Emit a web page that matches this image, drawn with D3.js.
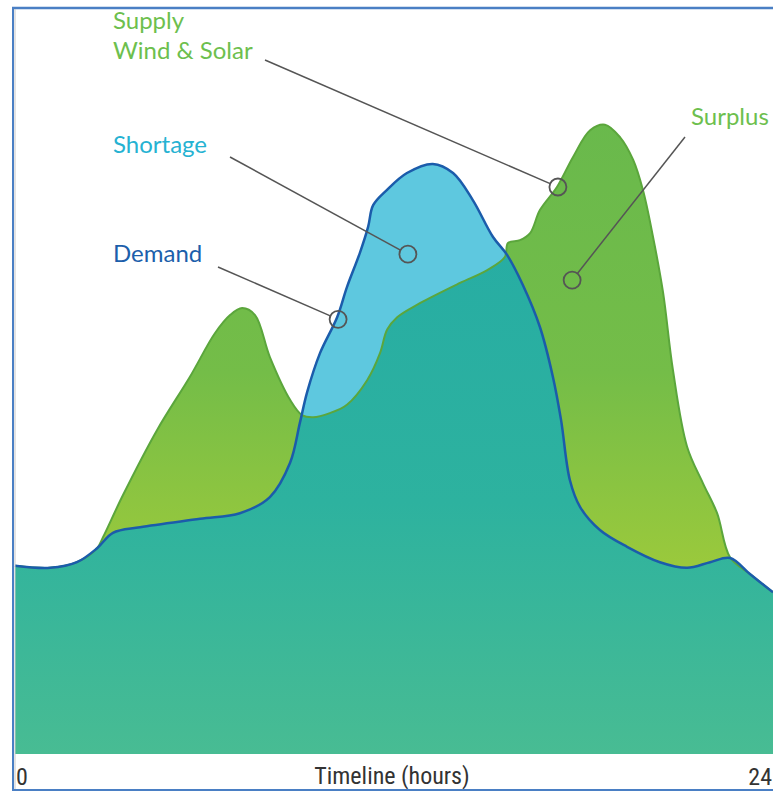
<!DOCTYPE html>
<html>
<head>
<meta charset="utf-8">
<script src="https://cdn.jsdelivr.net/npm/d3@7/dist/d3.min.js"></script>
<style>
  html, body { margin: 0; padding: 0; background: #fff; }
  svg { display: block; }
</style>
</head>
<body>
<svg id="chart" width="773" height="792"></svg>
<script>
// ---- data (hours, relative power) ----
const demandHours = [0.00,1.11,1.96,2.60,3.10,3.96,5.86,7.12,8.07,8.71,9.02,9.25,9.66,10.20,10.51,10.92,11.18,11.34,11.78,12.41,13.23,13.87,14.50,15.13,15.58,16.08,16.62,17.03,17.29,17.57,17.89,18.52,19.38,20.42,21.28,22.01,22.64,23.27,24.00];
const demandValues = [26.9,26.6,27.4,29.4,31.6,32.4,33.6,34.4,36.7,41.6,47.3,51.7,57.3,62.4,66.7,71.6,75.3,78.4,80.6,83.0,84.3,83.0,79.1,73.9,71.3,67.0,61.0,53.9,47.7,39.1,35.3,32.0,29.6,27.4,26.6,27.4,28.0,25.7,23.1];

const supplyHours = [0.00,1.11,1.96,2.60,2.79,3.42,4.50,5.54,6.33,6.81,7.19,7.60,8.07,8.71,9.09,9.44,9.97,10.51,11.15,11.56,11.78,12.10,12.82,14.09,14.94,15.51,15.61,15.99,16.31,16.62,17.16,17.67,18.21,18.68,19.16,19.57,19.88,20.20,20.52,20.83,21.28,21.78,22.23,22.64,23.27,24.00];
const supplyValues = [26.9,26.6,27.4,29.4,31.0,37.0,46.3,53.9,60.1,62.7,63.7,62.7,56.7,50.6,48.4,48.1,48.7,49.9,53.4,57.3,60.6,62.4,64.4,67.3,69.1,71.0,73.0,73.4,74.4,77.7,81.0,85.3,89.1,89.9,88.1,84.9,80.6,73.9,65.9,54.9,43.9,38.7,34.4,28.1,25.7,23.1];

const xTickLabels = ["0", "24"];
const xTickHours = [0, 24];
const axisTitle = "Timeline (hours)";

const annLabels = [["Supply", "Wind & Solar"], ["Shortage"], ["Demand"], ["Surplus"]];
const annHours  = [17.19, 12.44, 10.23, 17.64];
const annValues = [81.0, 71.4, 62.1, 67.7];

// ---- layout ----
const W = 773, H = 792;
const svg = d3.select("#chart");
const x = d3.scaleLinear().domain([0, 24]).range([15, 773]);
const y = d3.scaleLinear().domain([0, 100]).range([754, 54]);

const demand = demandHours.map((h, i) => ({h, v: demandValues[i]}));
const supply = supplyHours.map((h, i) => ({h, v: supplyValues[i]}));

const curve = d3.curveCatmullRom.alpha(0.5);
const area = d3.area().x(d => x(d.h)).y0(y(0)).y1(d => y(d.v)).curve(curve);
const line = d3.line().x(d => x(d.h)).y(d => y(d.v)).curve(curve);

const defs = svg.append("defs");
const gGreen = defs.append("linearGradient").attr("id", "gGreen")
  .attr("gradientUnits", "userSpaceOnUse").attr("x1", 0).attr("x2", 0).attr("y1", 120).attr("y2", 580);
gGreen.append("stop").attr("offset", "0%").attr("stop-color", "#69b94c");
gGreen.append("stop").attr("offset", "55%").attr("stop-color", "#74bd48");
gGreen.append("stop").attr("offset", "100%").attr("stop-color", "#9dca3b");

const gTeal = defs.append("linearGradient").attr("id", "gTeal")
  .attr("gradientUnits", "userSpaceOnUse").attr("x1", 0).attr("x2", 0).attr("y1", 250).attr("y2", 754);
gTeal.append("stop").attr("offset", "0%").attr("stop-color", "#27ada3");
gTeal.append("stop").attr("offset", "50%").attr("stop-color", "#2db29f");
gTeal.append("stop").attr("offset", "100%").attr("stop-color", "#48bc93");

defs.append("clipPath").attr("id", "demandClip")
  .append("path").attr("d", area(demand));

// supply area (surplus visible)
svg.append("path").attr("d", area(supply)).attr("fill", "url(#gGreen)");
// demand area (shortage visible)
svg.append("path").attr("d", area(demand)).attr("fill", "#5ec8df");
// overlap
svg.append("path").attr("d", area(supply)).attr("fill", "url(#gTeal)").attr("clip-path", "url(#demandClip)");
// lines
svg.append("path").attr("d", line(supply)).attr("fill", "none").attr("stroke", "#5ba63c").attr("stroke-width", 2);
svg.append("path").attr("d", line(demand)).attr("fill", "none").attr("stroke", "#1b5cab").attr("stroke-width", 2.5);

// ---- annotations ----
const annColors = ["#6dbf4e", "#25b2d2", "#1c5fab", "#6dbf4e"];
const annTextPos = [[113, 29], [113, 153], [113, 262], [691, 125]];
const annLineStart = [[265, 60], [230, 157], [218, 267], [685, 137]];
const r = 8.5;
annLabels.forEach((lines, i) => {
  const cx = x(annHours[i]), cy = y(annValues[i]);
  const [sx, sy] = annLineStart[i];
  const dx = cx - sx, dy = cy - sy, len = Math.hypot(dx, dy);
  svg.append("line").attr("x1", sx).attr("y1", sy)
    .attr("x2", cx - dx / len * r).attr("y2", cy - dy / len * r)
    .attr("stroke", "#555").attr("stroke-width", 1.5);
  svg.append("circle").attr("cx", cx).attr("cy", cy).attr("r", r)
    .attr("fill", "none").attr("stroke", "#555").attr("stroke-width", 1.8);
  const t = svg.append("text").attr("x", annTextPos[i][0]).attr("y", annTextPos[i][1])
    .attr("fill", annColors[i]).attr("font-family", "Lato, 'Open Sans', sans-serif")
    .attr("font-size", 24);
  lines.forEach((s, j) => t.append("tspan").attr("x", annTextPos[i][0]).attr("dy", j === 0 ? 0 : 30).text(s));
});

// ---- axis labels ----
const axisFont = "'Liberation Sans Narrow', 'Roboto Condensed', 'Open Sans', sans-serif";
svg.selectAll("text.tick").data(xTickHours).enter().append("text")
  .attr("class", "tick")
  .attr("x", (d, i) => i === 0 ? x(d) + 1 : x(d) - 1)
  .attr("y", 785)
  .attr("text-anchor", (d, i) => i === 0 ? "start" : "end")
  .attr("fill", "#333").attr("font-family", axisFont).attr("font-size", 24)
  .text((d, i) => xTickLabels[i]);
svg.append("text").attr("x", 392).attr("y", 784).attr("text-anchor", "middle")
  .attr("fill", "#333").attr("font-family", axisFont).attr("font-size", 24)
  .text(axisTitle);

// ---- frame ----
svg.append("line").attr("x1", 12).attr("x2", W).attr("y1", 8).attr("y2", 8).attr("stroke", "#4a7fc4").attr("stroke-width", 2.5);
svg.append("line").attr("x1", 12).attr("x2", W).attr("y1", 790).attr("y2", 790).attr("stroke", "#4a7fc4").attr("stroke-width", 2);
svg.append("line").attr("x1", 13).attr("x2", 13).attr("y1", 7).attr("y2", 791).attr("stroke", "#4a7fc4").attr("stroke-width", 2);
svg.append("line").attr("x1", 15).attr("x2", 15).attr("y1", 9).attr("y2", 789).attr("stroke", "#c8c8c8").attr("stroke-width", 1);
</script>
</body>
</html>
